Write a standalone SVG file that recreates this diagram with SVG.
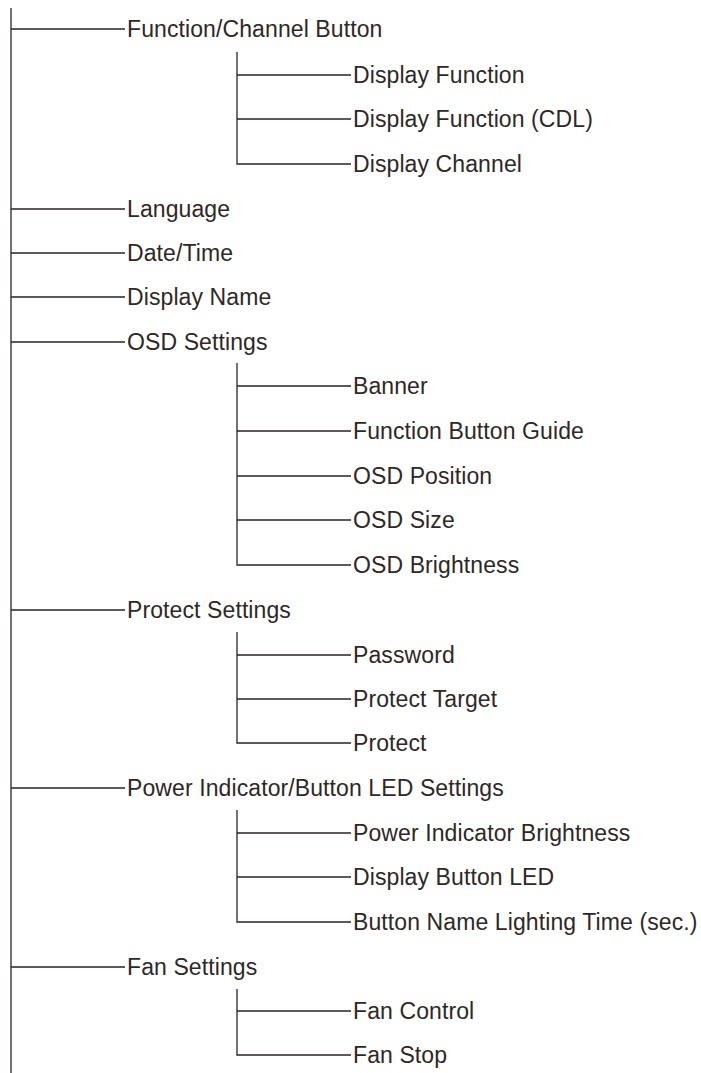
<svg xmlns="http://www.w3.org/2000/svg" width="701" height="1073" viewBox="0 0 701 1073">
<style>
.l{stroke:#2b2523;stroke-width:1.3;fill:none}
.t{font-family:"Liberation Sans",Arial,sans-serif;font-size:23px;letter-spacing:0.1px;fill:#2e2826}
</style>
<rect width="701" height="1073" fill="#fff"/>
<g id="connectors">
<path class="l" d="M11 8V1073"/>
<path class="l" d="M11 29H125M11 209H125M11 253H125M11 297H125M11 342H125M11 610H125M11 788H125M11 967H125"/>
<path class="l" d="M237 52V164H351M237 75H351M237 119H351"/>
<path class="l" d="M237 363V565H351M237 386H351M237 431H351M237 476H351M237 520H351"/>
<path class="l" d="M237 632V743H351M237 655H351M237 699H351"/>
<path class="l" d="M237 810V922H351M237 833H351M237 877H351"/>
<path class="l" d="M237 989V1055H351M237 1011H351"/>
</g>
<g id="n1"><text class="t" x="127" y="37">Function/Channel Button</text></g>
<g id="n1a"><text class="t" x="353" y="83">Display Function</text></g>
<g id="n1b"><text class="t" x="353" y="127">Display Function (CDL)</text></g>
<g id="n1c"><text class="t" x="353" y="172">Display Channel</text></g>
<g id="n2"><text class="t" x="127" y="217">Language</text></g>
<g id="n3"><text class="t" x="127" y="261">Date/Time</text></g>
<g id="n4"><text class="t" x="127" y="305">Display Name</text></g>
<g id="n5"><text class="t" x="127" y="350">OSD Settings</text></g>
<g id="n5a"><text class="t" x="353" y="394">Banner</text></g>
<g id="n5b"><text class="t" x="353" y="439">Function Button Guide</text></g>
<g id="n5c"><text class="t" x="353" y="484">OSD Position</text></g>
<g id="n5d"><text class="t" x="353" y="528">OSD Size</text></g>
<g id="n5e"><text class="t" x="353" y="573">OSD Brightness</text></g>
<g id="n6"><text class="t" x="127" y="618">Protect Settings</text></g>
<g id="n6a"><text class="t" x="353" y="663">Password</text></g>
<g id="n6b"><text class="t" x="353" y="707">Protect Target</text></g>
<g id="n6c"><text class="t" x="353" y="751">Protect</text></g>
<g id="n7"><text class="t" x="127" y="796">Power Indicator/Button LED Settings</text></g>
<g id="n7a"><text class="t" x="353" y="841">Power Indicator Brightness</text></g>
<g id="n7b"><text class="t" x="353" y="885">Display Button LED</text></g>
<g id="n7c"><text class="t" x="353" y="930">Button Name Lighting Time (sec.)</text></g>
<g id="n8"><text class="t" x="127" y="975">Fan Settings</text></g>
<g id="n8a"><text class="t" x="353" y="1019">Fan Control</text></g>
<g id="n8b"><text class="t" x="353" y="1063">Fan Stop</text></g>
</svg>
